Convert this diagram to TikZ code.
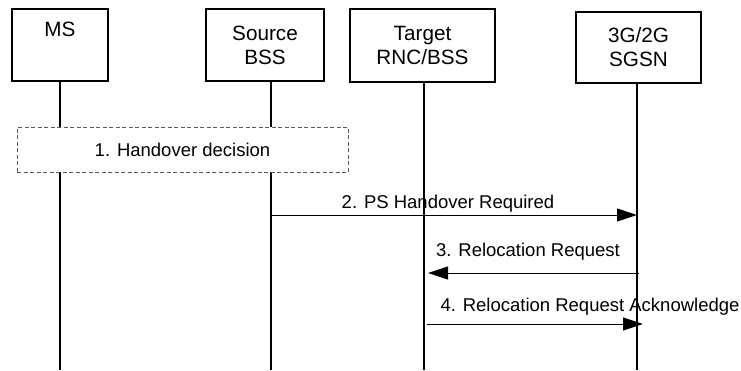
\documentclass[tikz,border=0pt]{standalone}
\usepackage{fontspec}
\setmainfont{Liberation Sans}
\usetikzlibrary{arrows.meta,positioning}
\tikzset{
    entity/.style={
    rectangle,draw=black,line width=1.7pt,align=center,inner sep=0pt,
    font=\fontsize{20.7}{24}\selectfont
    },
    decision/.style={
    rectangle,draw=black!65,line width=0.9pt,dash pattern=on 4pt off 2.5pt,fill=white,inner sep=0pt
    },
    lifeline/.style={
    draw=black,line width=1.2pt
    },
    msg/.style={
    draw=black,line width=1pt,-{Triangle[length=20pt,width=13pt]}
    },
}

\begin{document}
\begin{tikzpicture}[x=1pt, y=-1pt, font=\fontsize{18.5}{24}\selectfont]
   \useasboundingbox (0,0) rectangle (741,370);
   % entities
   \node[entity,minimum width=96pt,minimum height=72pt] (MS) at (60,45) {MS\\\strut};
   \node[entity,minimum width=118pt,minimum height=72pt] (SBSS) at (265,45) {Source\\BSS};
   \node[entity,minimum width=145pt,minimum height=73pt] (TRNC) at (422.5,45.5) {Target\\RNC/BSS};
   \node[entity,minimum width=125pt,minimum height=71pt] (SGSN) at (638.5,47.5) {3G/2G\\SGSN};

   \coordinate (lms) at (60,370);
   \coordinate (lsrc) at (271,370);
   \coordinate (ltrg) at (424,370);
   \coordinate (lsgsn) at (637,370);

   \draw[lifeline] (MS.south) -- (lms);
   \draw[lifeline] (SBSS.south -| lsrc) -- (lsrc);
   \draw[lifeline] (TRNC.south -| ltrg) -- (ltrg);
   \draw[lifeline] (SGSN.south -| lsgsn) -- (lsgsn);

   \node[decision,minimum width=331pt,minimum height=45pt] (HD) at (182.5,149.5) {1. Handover decision};

   % messages
   \coordinate (m2a) at (271,215);
   \coordinate (m2b) at (637,215);
   \coordinate (m3a) at (639,273);
   \coordinate (m3b) at (428,273);
   \coordinate (m4a) at (427,324);
   \coordinate (m4b) at (643,324);

   \draw[msg] (m2a) -- (m2b);
   \draw[msg] (m3a) -- (m3b);
   \draw[msg] (m4a) -- (m4b);

   \node (l2) at (448,204) {2. PS Handover Required};
   \node (l3) at (528,252) {3. Relocation Request};
   \node (l4) at (590,307) {4. Relocation Request Acknowledge};
\end{tikzpicture}
\end{document}
